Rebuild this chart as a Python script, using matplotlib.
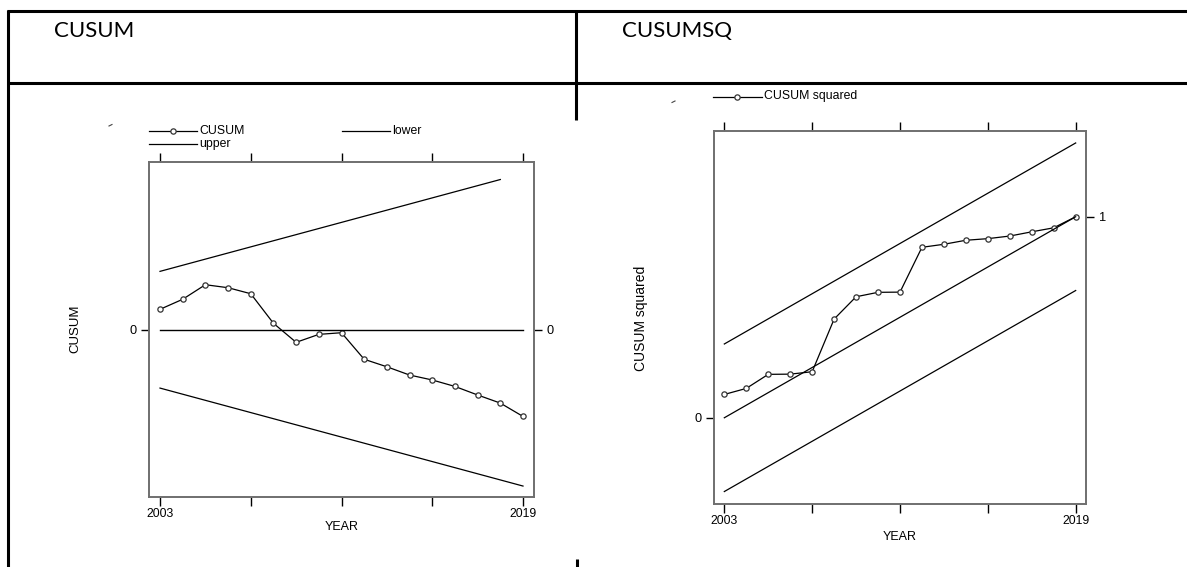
import matplotlib
matplotlib.use("Agg")
import matplotlib.pyplot as plt
from matplotlib.lines import Line2D

# ---------------- data ----------------
years = list(range(2003, 2020))
cusum = [1.36, 2.03, 3.00, 2.80, 2.40, 0.43, -0.84, -0.31, -0.20,
         -1.97, -2.47, -3.02, -3.35, -3.78, -4.35, -4.89, -5.78]
cusum_upper_years = list(range(2003, 2019))
cusum_bound_start, cusum_bound_end = 3.89, 10.42   # at 2003 / 2019
cusumsq = [0.116, 0.146, 0.216, 0.217, 0.229, 0.491, 0.602, 0.624, 0.625,
           0.848, 0.863, 0.883, 0.891, 0.904, 0.925, 0.945, 1.000]
sq_band = 0.367
year_ticks = [2003, 2007, 2011, 2015, 2019]
year_ticklabels = ["2003", "", "", "", "2019"]

# bound series (straight lines between the read end points)
def bound(yrs, a, b):
    return [a + (b - a) * (y - 2003) / 16 for y in yrs]

cusum_upper = bound(cusum_upper_years, cusum_bound_start, cusum_bound_end)
cusum_lower = [-v for v in bound(years, cusum_bound_start, cusum_bound_end)]
cusum_zero = [0.0] * len(years)
sq_mid = bound(years, 0.0, 1.0)
sq_up = [v + sq_band for v in sq_mid]
sq_lo = [v - sq_band for v in sq_mid]

# ---------------- figure ----------------
W, H = 1187, 567
fig = plt.figure(figsize=(W / 100, H / 100), dpi=100)
fig.patch.set_facecolor("white")

def fx(x):
    return x / W

def fy(y):
    return 1 - y / H

NARROW = ["Liberation Sans Narrow", "Liberation Sans", "DejaVu Sans"]
ARIAL = ["Liberation Sans", "DejaVu Sans"]
HEAD = ["Lato", "Open Sans", "DejaVu Sans"]
SMALL = 8.8

# table lines
def fline(x0, y0, x1, y1, lw=2.2, color="black"):
    fig.add_artist(Line2D([fx(x0), fx(x1)], [fy(y0), fy(y1)], lw=lw,
                          color=color, transform=fig.transFigure,
                          solid_capstyle="butt"))

fline(7, 11, W, 11)
fline(7, 83, W, 83)
fline(7.5, 10, 7.5, H)
fline(575.5, 10, 575.5, 120)
fline(576.5, 559, 576.5, H)

fig.text(fx(54), fy(31), "CUSUM", fontsize=16, family=HEAD, va="center", ha="left")
fig.text(fx(622), fy(31), "CUSUMSQ", fontsize=16, family=HEAD, va="center", ha="left")

SPINE = "#6f6f6f"
MK = dict(marker="o", markersize=3.8, markerfacecolor="white",
          markeredgecolor="#333333", markeredgewidth=0.9)

def style_axes(ax):
    for s in ax.spines.values():
        s.set_color(SPINE)
        s.set_linewidth(1.4)
    ax.set_xticks(year_ticks)
    ax.set_xticklabels(year_ticklabels, family=NARROW, fontsize=SMALL)
    ax.tick_params(axis="x", which="both", direction="out", length=6.5,
                   width=1, color="black", top=True, bottom=True,
                   labeltop=False, labelbottom=True, pad=1.5)
    ax.tick_params(axis="y", direction="out", length=6, width=1,
                   color="black", left=True, right=True,
                   labelleft=True, labelright=True, pad=3)

# ---------------- left chart: CUSUM ----------------
ax1 = fig.add_axes([fx(149), fy(497), (534 - 149) / W, (497 - 162) / H])
ax1.plot(years, cusum, color="black", lw=0.9, **MK)
ax1.plot(cusum_upper_years, cusum_upper, color="black", lw=0.9)
ax1.plot(years, cusum_lower, color="black", lw=0.9)
ax1.plot(years, cusum_zero, color="black", lw=1.0)
ax1.set_xlim(2002.515, 2019.485)
ax1.set_ylim(-11.15, 11.18)
ax1.set_yticks([0])
style_axes(ax1)
ax1.set_yticklabels(["0"], family=NARROW, fontsize=SMALL + 0.4)

fig.text(fx(75), fy(329), "CUSUM", rotation=90, fontsize=9.5, family=ARIAL,
         ha="center", va="center")
fig.text(fx(342), fy(527), "YEAR", fontsize=SMALL + 0.2, family=NARROW,
         ha="center", va="center")

# legend (left)
LEG = 8.8
fig.add_artist(Line2D([fx(149), fx(197)], [fy(131), fy(131)], color="black",
                      lw=0.9, transform=fig.transFigure))
fig.add_artist(Line2D([fx(173)], [fy(131)], color="black", lw=0,
                      transform=fig.transFigure, **MK))
fig.text(fx(199), fy(130.5), "CUSUM", fontsize=LEG, family=NARROW, va="center")
fig.add_artist(Line2D([fx(342), fx(390)], [fy(131), fy(131)], color="black",
                      lw=0.9, transform=fig.transFigure))
fig.text(fx(392), fy(130.5), "lower", fontsize=LEG, family=NARROW, va="center")
fig.add_artist(Line2D([fx(149), fx(197)], [fy(144), fy(144)], color="black",
                      lw=0.9, transform=fig.transFigure))
fig.text(fx(199), fy(143.5), "upper", fontsize=LEG, family=NARROW, va="center")
fig.add_artist(Line2D([fx(109), fx(112)], [fy(126), fy(124.5)], color="#444444",
                      lw=0.8, transform=fig.transFigure))

# ---------------- right chart: CUSUMSQ ----------------
ax2 = fig.add_axes([fx(714), fy(504), (1086 - 714) / W, (504 - 130.7) / H])
ax2.plot(years, cusumsq, color="black", lw=0.9, **MK)
ax2.plot(years, sq_up, color="black", lw=0.9)
ax2.plot(years, sq_mid, color="black", lw=0.9)
ax2.plot(years, sq_lo, color="black", lw=0.9)
ax2.set_xlim(2002.53, 2019.47)
ax2.set_ylim(-0.429, 1.428)
ax2.set_yticks([0, 1])
style_axes(ax2)
ax2.set_yticklabels(["0", "1"], family=NARROW, fontsize=SMALL + 0.4)
ticks = ax2.yaxis.get_major_ticks()
ticks[0].label2.set_visible(False)
ticks[0].tick2line.set_visible(False)
ticks[1].label1.set_visible(False)
ticks[1].tick1line.set_visible(False)

fig.text(fx(641), fy(318), "CUSUM squared", rotation=90, fontsize=10,
         family=ARIAL, ha="center", va="center")
fig.text(fx(900), fy(537), "YEAR", fontsize=SMALL + 0.2, family=NARROW,
         ha="center", va="center")

fig.add_artist(Line2D([fx(713), fx(762)], [fy(97), fy(97)], color="black",
                      lw=0.9, transform=fig.transFigure))
fig.add_artist(Line2D([fx(737)], [fy(97)], color="black", lw=0,
                      transform=fig.transFigure, **MK))
fig.text(fx(764), fy(96.5), "CUSUM squared", fontsize=LEG, family=NARROW, va="center")
fig.add_artist(Line2D([fx(672), fx(675)], [fy(102.5), fy(101)], color="#444444",
                      lw=0.8, transform=fig.transFigure))

fig.savefig("out.png", dpi=100, facecolor="white")
